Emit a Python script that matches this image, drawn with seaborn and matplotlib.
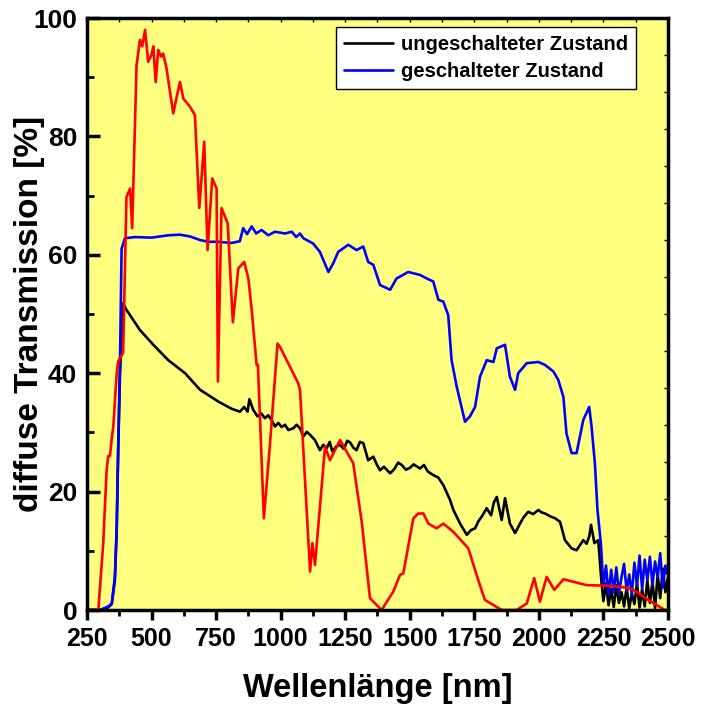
import matplotlib
matplotlib.use('Agg')
import matplotlib.pyplot as plt
from matplotlib.ticker import MultipleLocator, NullFormatter
from matplotlib.lines import Line2D
import seaborn as sns
import pandas as pd

# red reference curve (no legend entry)
red_nm = [250, 294, 313, 326, 332, 339, 346, 352, 365, 371, 384, 390, 403, 417, 425, 442, 455, 464, 475, 487,
          500, 507, 516, 526, 537, 545, 558, 584, 610, 623, 649, 668, 685, 704, 717, 735, 752, 757, 771, 795,
          815, 836, 859, 875, 888, 907, 912, 935, 959, 988, 997, 1036, 1068, 1075, 1114, 1123, 1133, 1172, 1191, 1230,
          1281, 1314, 1346, 1391, 1436, 1462, 1475, 1514, 1533, 1553, 1572, 1604, 1630, 1669, 1727, 1762, 1791, 1856,
          1914, 1953, 1982, 2004, 2030, 2060, 2095, 2185, 2269, 2334, 2366, 2424, 2488, 2500]
red_val = [0, 0, 11.3, 23.6, 26, 26, 29, 31, 40, 42, 43, 43.5, 69.8, 71.2, 64.5, 92, 96.3, 95.2, 98, 92.6,
           93.8, 95.2, 89.2, 94.6, 93.5, 94, 91.5, 83.9, 89.2, 86.4, 85, 83.6, 67.9, 79.1, 60.8, 72.9, 71.2, 38.6, 67.9, 65.3,
           48.6, 57.7, 58.8, 56, 50.7, 41.4, 41.4, 15.5, 28.2, 45, 44.5, 41.1, 38.3, 37.2, 6.5, 11.3, 7.6, 27.6, 25.3, 28.7,
           24.8, 14.9, 2, 0, 3.1, 5.9, 6.2, 15.5, 16.3, 16.3, 14.6, 13.8, 14.6, 13.2, 10.4, 5.5, 1.7, 0,
           0, 1.1, 5.4, 1.4, 5.6, 3.4, 5.2, 4.2, 4.1, 3.8, 3.4, 1.7, 0, 0]

# ungeschalteter Zustand
black_nm = [250, 320, 346, 358, 365, 371, 378, 390, 403, 455, 507, 565, 630, 688, 759, 810, 842, 859,
            872, 879, 894, 911, 925, 939, 952, 965, 978, 991, 1004, 1017, 1030, 1049, 1062, 1075, 1088, 1101, 1114, 1133,
            1152, 1165, 1178, 1190, 1200, 1215, 1230, 1245, 1258, 1269, 1282, 1294, 1307, 1320,
            1339, 1359, 1372, 1385, 1400, 1424, 1440, 1455, 1469, 1485, 1500, 1515, 1540, 1555, 1570, 1591, 1610, 1630,
            1656, 1669, 1695, 1721, 1737, 1753, 1766, 1779, 1798, 1815, 1826, 1837, 1856, 1869,
            1888, 1908, 1927, 1940, 1959, 1978, 1998, 2010, 2024, 2045, 2063, 2082, 2101, 2127, 2146, 2160, 2172,
            2185, 2195, 2202, 2215, 2230, 2243]
black_val = [0, 0, 1, 5, 13, 27, 40, 51.8, 50.7, 47.3, 44.8, 42.2, 40, 37.2, 35.2, 34, 33.5, 34.3,
             33.5, 35.6, 33.8, 32.7, 33.2, 32.4, 32.9, 32.1, 31, 31.6, 30.9, 31.3, 30.4, 30.7, 31.3, 30.7, 29.3, 30.1, 29.6, 28.7,
             27, 27.9, 27.3, 28.4, 26.8, 27.6, 27.9, 27.2, 28.6, 28.3, 27.4, 27, 28.4, 28.2,
             25.3, 25.9, 24.6, 23.6, 24.2, 23.1, 23.8, 24.9, 24.5, 23.7, 24.0, 24.6, 23.9, 24.5, 23.4, 22.8, 22.4, 21.1,
             18.6, 16.9, 14.6, 12.7, 13.5, 13.8, 15.0, 15.8, 17.2, 16.0, 18.2, 19.1, 15.2, 18.9,
             14.6, 13, 14.6, 15.6, 16.6, 16.2, 16.9, 16.5, 16.3, 15.8, 15.5, 14.9, 11.8, 10.4, 10.1, 11.0, 11.8,
             11.2, 12.4, 14.4, 11.3, 11.8, 4.5]

# geschalteter Zustand
blue_nm = [250, 300, 332, 346, 358, 365, 371, 378, 384, 397, 436, 500, 565, 610, 649, 688, 720, 759, 810, 842,
           855, 870, 888, 905, 926, 952, 978, 1017, 1043, 1060, 1075, 1088, 1126, 1152, 1185, 1204, 1223, 1262, 1294, 1320,
           1339, 1359, 1385, 1424, 1449, 1494, 1540, 1566, 1591, 1611, 1630, 1649, 1662, 1682, 1714, 1733, 1753, 1772, 1798, 1824,
           1837, 1869, 1888, 1908, 1920, 1953, 1998, 2024, 2056, 2075, 2095, 2107, 2127, 2146, 2159, 2172, 2195, 2204, 2217, 2227,
           2240]
blue_val = [0, 0, 0.6, 1.1, 5.6, 14, 28, 42, 61, 62.8, 63, 62.9, 63.3, 63.4, 63.1, 62.5, 62.2, 62.2, 62, 62.3,
            64.5, 63.5, 64.8, 63.6, 64.2, 63.3, 63.9, 63.6, 63.9, 63.0, 63.6, 62.8, 61.9, 60.5, 57.1, 58.6, 60.5, 61.7, 60.8, 61.4,
            58.8, 58.3, 54.9, 54.1, 56, 57.1, 56.6, 56, 55.5, 52.4, 52.1, 49.8, 42.2, 37.7, 31.8, 32.7, 34.3, 39.4, 42.2, 41.9,
            44.2, 44.8, 39.4, 37.2, 40, 41.7, 41.9, 41.4, 40.3, 38.9, 36, 29.8, 26.5, 26.5, 29.3, 32.1, 34.3, 31, 24.8, 16.9,
            11.3]

# noisy tail above 2250 nm
tail_nm = [2250, 2260, 2270, 2280, 2290, 2300, 2310, 2320, 2330, 2340, 2350, 2360, 2370,
           2380, 2390, 2400, 2410, 2420, 2430, 2440, 2450, 2460, 2470, 2480, 2490, 2500]
black_tail = [1.5, 4.5, 0.8, 3.5, 0.5, 4.2, 1.2, 3.0, 0.6, 3.8, 0.3, 2.8, 1.0,
              4.5, 0.4, 3.5, 0.6, 5.0, 1.2, 4.8, 0.3, 6.0, 2.0, 7.0, 3.0, 5.5]
blue_tail = [4.0, 7.5, 2.5, 6.8, 3.0, 7.2, 2.8, 5.5, 7.8, 3.2, 6.0, 2.6, 8.0,
             4.1, 9.2, 3.5, 8.5, 5.0, 9.0, 4.2, 8.2, 5.5, 9.6, 3.8, 7.5, 6.0]

labels = ['ungeschalteter Zustand', 'geschalteter Zustand']

sns.set_style('ticks')
plt.rcParams['font.family'] = ['Liberation Sans', 'DejaVu Sans']
plt.rcParams['font.weight'] = 'bold'
for key in ['text.color', 'axes.labelcolor', 'xtick.color', 'ytick.color', 'axes.edgecolor']:
    plt.rcParams[key] = 'black'

df = pd.concat([
    pd.DataFrame({'nm': black_nm + tail_nm, 'T': black_val + black_tail, 'z': labels[0]}),
    pd.DataFrame({'nm': blue_nm + tail_nm, 'T': blue_val + blue_tail, 'z': labels[1]}),
])
red_df = pd.DataFrame({'nm': red_nm, 'T': red_val})

fig = plt.figure(figsize=(7.1, 7.09), dpi=100)
ax = fig.add_axes([0.1225, 0.1396, 0.8183, 0.835])
ax.set_facecolor('#FFFF80')

sns.lineplot(data=df, x='nm', y='T', hue='z', palette=['black', 'blue'], sort=False,
             estimator=None, linewidth=1.9, ax=ax, legend=False)
sns.lineplot(data=red_df, x='nm', y='T', color='red', sort=False, estimator=None,
             linewidth=1.9, ax=ax, legend=False)

ax.set_xlim(250, 2500)
ax.set_ylim(0, 100)
ax.xaxis.set_major_locator(MultipleLocator(250))
ax.xaxis.set_minor_locator(MultipleLocator(125))
ax.yaxis.set_major_locator(MultipleLocator(20))
ax.yaxis.set_minor_locator(MultipleLocator(10))
ax.tick_params(axis='x', which='major', direction='out', length=7, width=2.5, labelsize=18, pad=5)
ax.tick_params(axis='x', which='minor', direction='out', length=4, width=2)
ax.tick_params(axis='y', which='major', direction='in', length=9, width=2.5, labelsize=19, pad=7)
ax.tick_params(axis='y', which='minor', direction='in', length=5, width=2)
for s in ax.spines.values():
    s.set_linewidth(2.5)

top = ax.secondary_xaxis('top')
top.xaxis.set_major_locator(MultipleLocator(125))
top.xaxis.set_major_formatter(NullFormatter())
top.tick_params(direction='in', length=3, width=1)
right = ax.secondary_yaxis('right')
right.yaxis.set_major_locator(MultipleLocator(6.25))
right.yaxis.set_major_formatter(NullFormatter())
right.tick_params(direction='in', length=3, width=1)

ax.set_xlabel('Wellenlänge [nm]', fontsize=23.5, fontweight='bold', labelpad=16)
ax.set_ylabel('diffuse Transmission [%]', fontsize=24, fontweight='bold')
ax.yaxis.set_label_coords(-0.072, 0.5)

handles = [Line2D([], [], color='black', linewidth=1.9), Line2D([], [], color='blue', linewidth=1.9)]
leg = ax.legend(handles, labels, loc='upper right', bbox_to_anchor=(0.945, 0.985),
                fontsize=14.5, frameon=True, fancybox=False, handlelength=2.4, handletextpad=0.4,
                borderpad=0.4, labelspacing=0.4, borderaxespad=0)
leg.get_frame().set_edgecolor('black')
leg.get_frame().set_linewidth(1)
leg.get_frame().set_facecolor('white')
leg.get_frame().set_alpha(1)

fig.savefig('out.png', dpi=100)
